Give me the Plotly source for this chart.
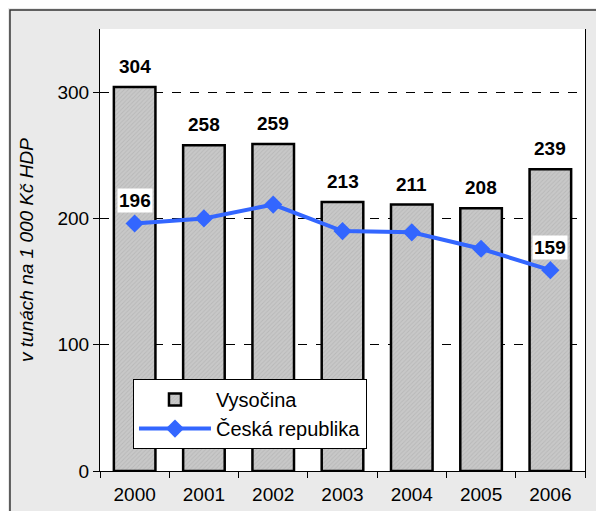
import plotly.graph_objects as go

# data
years = ['2000', '2001', '2002', '2003', '2004', '2005', '2006']
vysocina = [304, 258, 259, 213, 211, 208, 239]
cr = [196, 200, 211, 190, 189, 176, 159]
cr_labels = ['196', '', '', '', '', '', '159']

font_main = 'Liberation Sans, Arial, sans-serif'

fig = go.Figure()

fig.add_trace(go.Bar(
    x=years, y=vysocina,
    name='Vysočina',
    marker=dict(color='#c4c4c4',
                line=dict(color='black', width=2.5),
                pattern=dict(shape='/', fgcolor='#a8a8a8', bgcolor='#c8c8c8', size=3, solidity=0.3)),
))

fig.add_trace(go.Scatter(
    x=years, y=cr,
    name='Česká republika',
    mode='lines+markers',
    line=dict(color='#3366ff', width=4),
    marker=dict(symbol='diamond', size=14, color='#3366ff'),
))

# bar value labels (x given as category index, "2000" would be read as index 2000)
for i, v in enumerate(vysocina):
    fig.add_annotation(x=i, y=v, text='<b>%d</b>' % v, showarrow=False,
                       yanchor='bottom', yshift=8,
                       font=dict(family=font_main, size=19, color='black'))

# line value labels (first and last point only)
for i, (v, t) in enumerate(zip(cr, cr_labels)):
    if t:
        fig.add_annotation(x=i, y=v, text='<b>%s</b>' % t, showarrow=False,
                           yanchor='bottom', yshift=10, bgcolor='white', borderpad=1,
                           font=dict(family=font_main, size=19, color='black'))

# outer frame of the picture
fig.add_shape(type='rect', xref='paper', yref='paper',
              x0=-0.1856, x1=1.037, y0=-0.12, y1=1.043,
              line=dict(color='#333333', width=1.5), layer='below')

# the page body adds 8px on the top and left, margins are reduced by that
fig.update_layout(
    width=604, height=511,
    margin=dict(l=92, r=27, t=21, b=48, autoexpand=False),
    paper_bgcolor='#eaeaea',
    plot_bgcolor='white',
    bargap=0.4,
    font=dict(family=font_main, size=19, color='black'),
    showlegend=True,
    legend=dict(x=0.068, y=0.208, xanchor='left', yanchor='top',
                bgcolor='white', bordercolor='black', borderwidth=1,
                font=dict(size=20), itemwidth=72,
                traceorder='normal'),
    xaxis=dict(type='category', automargin=False, tickangle=0,
               range=[-0.5, len(years) - 0.5],
               showline=True, linecolor='black', linewidth=1,
               ticks='outside', ticklen=6, tickcolor='black',
               tickson='boundaries', mirror=False, ticklabelstandoff=6,
               tickfont=dict(size=19)),
    yaxis=dict(range=[0, 350], tickvals=[0, 100, 200, 300], automargin=False,
               showline=True, linecolor='black', linewidth=1, mirror=True,
               ticks='outside', ticklen=6, tickcolor='black',
               showgrid=True, gridcolor='black', gridwidth=1, griddash='dash',
               zeroline=False,
               tickfont=dict(size=19),
               title=dict(text='v tunách na 1 000 Kč HDP', standoff=18,
                          font=dict(size=19, style='italic'))),
)

fig.write_html("out.html")
